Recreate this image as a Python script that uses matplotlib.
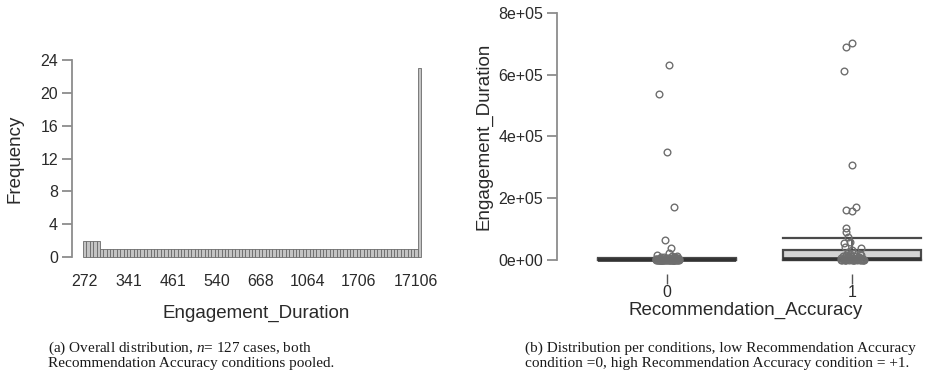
import matplotlib
matplotlib.use("Agg")
import matplotlib.pyplot as plt

# ---------------- data ----------------
# (a) frequency of each distinct Engagement_Duration value (100 distinct values)
freq_counts = [2, 2, 2, 2, 2,
               1, 1, 1, 1, 1, 1, 1, 1, 1, 1, 1, 1, 1, 1, 1, 1, 1, 1, 1, 1,
               1, 1, 1, 1, 1, 1, 1, 1, 1, 1, 1, 1, 1, 1, 1, 1, 1, 1, 1, 1,
               1, 1, 1, 1, 1, 1, 1, 1, 1, 1, 1, 1, 1, 1, 1, 1, 1, 1, 1, 1,
               1, 1, 1, 1, 1, 1, 1, 1, 1, 1, 1, 1, 1, 1, 1, 1, 1, 1, 1, 1,
               1, 1, 1, 1, 1, 1, 1, 1, 1, 1, 1, 1, 1, 1,
               23]
# visible category labels (index of the distinct value -> label)
freq_tick_labels = {0: "272", 13: "341", 26: "461", 39: "540",
                    52: "668", 66: "1064", 81: "1706", 98: "17106"}
freq_yticks = [0, 4, 8, 12, 16, 20, 24]

# (b) Engagement_Duration per Recommendation_Accuracy condition
groups = ["0", "1"]
g0_values = [120, 180, 240, 272, 300, 341, 380, 420, 461, 500,
             540, 580, 620, 668, 720, 780, 850, 920, 1000, 1064,
             1150, 1250, 1350, 1480, 1600, 1706, 1850, 2000, 2200, 2450,
             2700, 3000, 3400, 3800, 4300, 4800, 5400, 6000, 6800, 7600,
             8500, 9500, 10500, 12000, 14000, 17106, 200, 350, 650, 900,
             1300, 1900, 2600, 3600, 5000, 7000, 400, 800, 1500, 22000,
             632000, 537000, 350000, 173000, 65000, 38000]
g0_jitter = [-0.05, 0.02, -0.01, 0.06, -0.03, 0.04, 0.00, -0.06, 0.03, -0.02,
             0.05, -0.04, 0.01, 0.065, -0.055, 0.025, -0.015, 0.045, -0.035, 0.015,
             -0.025, 0.055, -0.045, 0.035, -0.005, 0.005, 0.06, -0.06, 0.03, -0.02,
             0.04, -0.05, 0.02, -0.03, 0.05, -0.01, 0.01, -0.04, 0.06, 0.00,
             -0.035, 0.045, -0.015, 0.025, 0.055, -0.055, 0.035, -0.045, 0.015, -0.025,
             0.005, -0.005, 0.065, -0.06, 0.03, 0.02, -0.02, 0.04, -0.04, 0.01,
             0.013, -0.043, 0.0, 0.036, -0.01, 0.02]
g1_values = [702000, 691000, 612000, 308000, 173000, 163000, 160000, 105000, 92000, 76000,
             59000, 56000, 43000, 38000, 32000, 27000, 22000,
             150, 260, 380, 500, 640, 800, 980, 1200, 1450, 1700,
             2000, 2400, 2800, 3300, 3900, 4600, 5400, 6300, 7400, 8600,
             10000, 11500, 13000, 15000, 17000, 19000, 210, 450, 900, 1600,
             2600, 4200, 6800, 9300, 12500, 300, 700, 1100, 3600, 5000,
             14000, 18000, 8000, 2200]
g1_jitter = [0.0, -0.03, -0.043, 0.0, 0.02, -0.034, 0.0, -0.03, -0.034, -0.02,
             -0.01, -0.043, -0.04, 0.05, 0.0, -0.02, 0.01,
             0.05, -0.04, 0.01, 0.065, -0.055, 0.025, -0.015, 0.045, -0.035, 0.015,
             -0.05, 0.02, -0.01, 0.06, -0.03, 0.04, 0.00, -0.06, 0.03, -0.02,
             0.04, -0.05, 0.02, -0.03, 0.05, -0.01, 0.01, -0.04, 0.06, 0.00,
             -0.025, 0.055, -0.045, 0.035, -0.005, 0.005, 0.06, -0.06, 0.03, -0.02,
             -0.035, 0.045, -0.015, 0.025]
# box summary statistics per group
box_q1 = [300, 400]
box_med = [900, 2500]
box_q3 = [2500, 32000]
box_whislo = [0, 0]
box_whishi = [5000, 70000]
box_yticks = [0, 200000, 400000, 600000, 800000]
box_yticklabels = ["0e+00", "2e+05", "4e+05", "6e+05", "8e+05"]

# ---------------- style ----------------
plt.rcParams["font.family"] = ["Liberation Sans", "DejaVu Sans"]
plt.rcParams["mathtext.fontset"] = "custom"
plt.rcParams["mathtext.it"] = "Liberation Serif:italic"
plt.rcParams["mathtext.rm"] = "Liberation Serif"

W, H = 936, 378
fig = plt.figure(figsize=(W / 100, H / 100), dpi=100)
fig.patch.set_facecolor("white")

spine_col = "#8c8c8c"
text_col = "#2a2a2a"
TICK_FS = 11.5
LAB_FS = 13.5


def px_axes(x0, y0, x1, y1):
    return fig.add_axes([x0 / W, 1 - y1 / H, (x1 - x0) / W, (y1 - y0) / H])


# ---------------- (a) frequency bar chart ----------------
ax1 = px_axes(72, 52, 440, 265.2)
xs = list(range(len(freq_counts)))
ax1.bar(xs, freq_counts, width=1.0, color="#c4c4c4", edgecolor="#6a6a6a",
        linewidth=0.6)
ax1.set_xlim(-3.76, 105.1)
ax1.set_ylim(-1, 25)
for s in ["top", "right", "bottom"]:
    ax1.spines[s].set_visible(False)
ax1.spines["left"].set_bounds(0, 24)
ax1.spines["left"].set_color(spine_col)
ax1.spines["left"].set_linewidth(1.3)
ax1.set_yticks(freq_yticks)
ax1.tick_params(axis="y", length=7, width=1.3, color=spine_col,
                labelsize=TICK_FS, labelcolor=text_col, pad=3)
ticks_pos = sorted(freq_tick_labels)
ax1.set_xticks(ticks_pos)
ax1.set_xticklabels([freq_tick_labels[k] for k in ticks_pos])
ax1.tick_params(axis="x", length=0, labelsize=TICK_FS, labelcolor=text_col, pad=6)
ax1.set_xlabel("Engagement_Duration", fontsize=LAB_FS, color=text_col, labelpad=12)
ax1.set_ylabel("Frequency", fontsize=LAB_FS, color=text_col, labelpad=12)

# ---------------- (b) box plot with jittered points ----------------
ax2 = px_axes(557, 3.7, 935, 269.9)
stats = []
for i in range(len(groups)):
    stats.append(dict(q1=box_q1[i], med=box_med[i], q3=box_q3[i],
                      whislo=box_whislo[i], whishi=box_whishi[i], fliers=[]))
ax2.bxp(stats, positions=[0, 1], widths=0.75, capwidths=0.75,
        patch_artist=True, showfliers=False,
        boxprops=dict(facecolor="#d4d4d4", edgecolor="#4a4a4a", linewidth=1.6),
        medianprops=dict(color="#333333", linewidth=2.6),
        whiskerprops=dict(color="#4a4a4a", linewidth=1.2),
        capprops=dict(color="#4a4a4a", linewidth=1.6))
for gi, (vals, jit) in enumerate([(g0_values, g0_jitter), (g1_values, g1_jitter)]):
    ax2.plot([gi + j for j in jit], vals, linestyle="none", marker="o",
             markersize=4.8, markerfacecolor="none", markeredgecolor="#6e6e6e",
             markeredgewidth=1.0, zorder=5)
ax2.set_xlim(-0.5946, 1.4486)
ax2.set_ylim(-32000, 830000)
for s in ["top", "right", "bottom"]:
    ax2.spines[s].set_visible(False)
ax2.spines["bottom"].set_position(("outward", 3))
ax2.spines["left"].set_bounds(0, 800000)
ax2.spines["left"].set_color(spine_col)
ax2.spines["left"].set_linewidth(1.3)
ax2.set_yticks(box_yticks)
ax2.set_yticklabels(box_yticklabels)
ax2.tick_params(axis="y", length=7, width=1.3, color=spine_col,
                labelsize=TICK_FS, labelcolor=text_col, pad=3)
ax2.set_xticks([0, 1])
ax2.set_xticklabels(groups)
ax2.tick_params(axis="x", length=7, width=1.0, color="#555555",
                labelsize=TICK_FS, labelcolor=text_col, pad=1)
ax2.set_xlabel("Recommendation_Accuracy", fontsize=LAB_FS, color=text_col, labelpad=1)
ax2.set_ylabel("Engagement_Duration", fontsize=LAB_FS, color=text_col, labelpad=4)

# ---------------- captions ----------------
cap_kw = dict(fontsize=11, color="#1a1a1a", family=["Liberation Serif", "DejaVu Serif"],
              va="center", ha="left")
fig.text(48 / W, 1 - 348 / H, r"(a) Overall distribution, $n$= 127 cases, both", **cap_kw)
fig.text(48 / W, 1 - 364 / H, "Recommendation Accuracy conditions pooled.", **cap_kw)
fig.text(525 / W, 1 - 348 / H,
         "(b) Distribution per conditions, low Recommendation Accuracy", **cap_kw)
fig.text(525 / W, 1 - 364 / H,
         "condition =0, high Recommendation Accuracy condition = +1.", **cap_kw)

fig.savefig("out.png", dpi=100, facecolor="white")
